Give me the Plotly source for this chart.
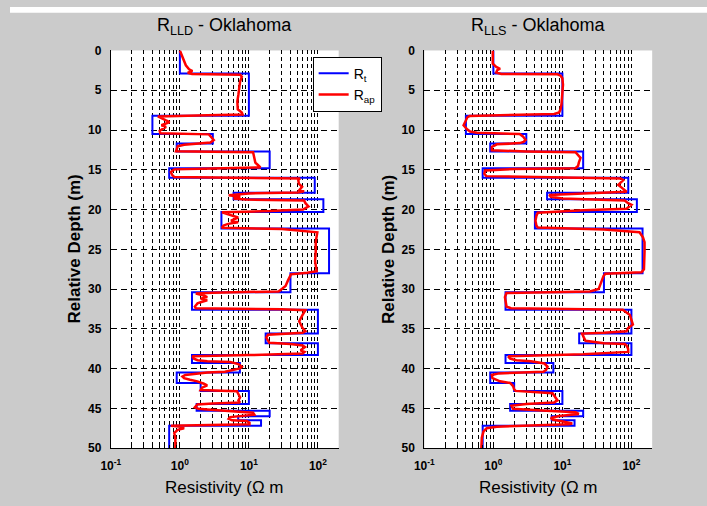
import numpy as np
import plotly.graph_objects as go

# ---- True resistivity model (shared by both panels) ----
rt_top_depth = [0, 2.9, 8.2, 10.5, 11.7, 12.7, 14.8, 16.0, 17.9, 18.7, 20.3, 22.4, 28.0,
                30.4, 32.6, 35.6, 36.8, 38.3, 39.3, 40.5, 41.8, 42.8, 44.45, 45.3, 46.0,
                46.5, 47.2]
rt_values = [1.0, 10, 0.4, 3, 0.9, 20, 0.7, 90, 6, 120, 4, 145, 40,
             1.5, 100, 17.5, 100, 1.5, 7.4, 0.9, 2, 10, 1.75, 20, 7,
             15, 0.7]
max_depth = 50

# ---- Apparent resistivity, LLD ----
lld_depth = [0, 1.05, 1.87, 2.36, 2.6, 2.8, 2.95, 3.05, 3.3, 3.9, 4.7, 5.5, 6.4, 7.4, 7.8, 8.05,
             8.15, 8.3, 8.8, 9.0, 9.4, 9.6, 10.1, 10.4, 10.55, 11.04, 11.25, 11.57, 11.7, 11.85,
             12.05, 12.47, 12.67, 12.8, 13.5, 14.1, 14.4, 14.7, 14.85, 14.95, 15.3, 15.7, 15.9,
             16.0, 16.1, 16.3, 16.75, 17.15, 17.55, 17.7, 17.85, 17.97, 18.1, 18.2, 18.4, 18.6,
             18.75, 18.86, 19.2, 19.6, 20.0, 20.2, 20.35, 20.8, 21.0, 21.4, 21.6, 21.8, 22.0,
             22.3, 22.45, 22.86, 24.1, 25.3, 26.5, 27.75, 27.95, 28.15, 28.56, 28.97, 29.6, 30.0,
             30.3, 30.45, 30.55, 30.8, 31.0, 31.2, 31.4, 31.6, 31.8, 32.2, 32.4, 32.55, 32.65,
             33.25, 34.06, 34.9, 35.3, 35.5, 35.65, 35.75, 36.1, 36.5, 36.75, 36.9, 37.1, 37.3,
             37.7, 37.9, 38.1, 38.3, 38.46, 38.75, 38.95, 39.07, 39.16, 39.44, 39.77, 39.97,
             40.17, 40.4, 40.5, 40.8, 41.0, 41.2, 41.4, 41.6, 41.9, 42.1, 42.4, 42.7, 42.85,
             43.2, 43.6, 44.0, 44.25, 44.4, 44.5, 44.87, 45.06, 45.15, 45.4, 45.55, 45.8, 45.96,
             46.1, 46.3, 46.5, 46.6, 46.8, 47.0, 47.1, 47.2, 47.3, 47.5, 47.7, 48.1, 48.7, 49.5,
             50]
lld_values = [1.0, 1.13, 1.22, 1.36, 1.52, 1.3, 1.5, 7.5, 7.9, 7.45, 7.3, 7.06, 6.8, 6.9, 7.9, 8.1,
              2.5, 0.48, 0.63, 0.71, 0.54, 0.63, 0.51, 0.52, 2.63, 2.93, 3.1, 2.77, 2.0, 1.15,
              0.93, 0.9, 0.88, 11.5, 12.0, 12.4, 13.5, 14.7, 3.0, 0.83, 0.74, 0.78, 0.83,
              20, 55, 52, 53, 59, 54, 63, 51, 10, 5.35, 5.1, 7.5, 6.0,
              9.0, 63, 66, 73, 61, 20, 4.07, 6.0, 7.0, 5.5, 7.0, 5.0, 4.3,
              4.07, 30, 98, 93, 93, 91, 96, 70, 40.7, 39, 36.6, 34, 29.4,
              27, 3.0, 1.7, 2.23, 2.49, 2.0, 2.49, 2.1, 1.8, 1.65, 1.7, 30, 66,
              60, 53.5, 60, 66, 60, 30, 18.9, 17.9, 18.9, 19.8, 40, 60, 65,
              56, 64, 60, 10, 1.52, 1.6, 1.8, 2.5, 5.35, 7.06, 7.9, 7.45,
              6.0, 4.5, 2.5, 1.2, 1.09, 1.15, 1.4, 1.79, 2.23, 2.49, 2.1, 2.0, 6.7,
              7.06, 7.45, 7.06, 7.45, 3.0, 1.79, 1.65, 1.85, 2.49, 7.45, 11.5, 12.0, 8.5,
              5.35, 5.1, 5.7, 9.3, 10.2, 10.2, 3.0, 0.74, 1.03, 1.15, 0.93, 0.83, 0.86, 0.86,
              0.86]

# ---- Apparent resistivity, LLS ----
lls_depth = [0, 1.67, 2.07, 2.3, 2.48, 2.77, 2.95, 3.0, 3.17, 3.5, 4.3, 5.5, 6.76, 7.4, 7.8, 7.98,
             8.1, 8.25, 8.4, 9.0, 9.4, 9.94, 10.2, 10.35, 10.5, 10.8, 11.25, 11.5, 11.65, 11.8,
             12.14, 12.55, 12.7, 12.8, 13.1, 13.5, 14.1, 14.5, 14.8, 14.9, 15.1, 15.5, 15.8,
             15.95, 16.1, 16.3, 16.75, 16.9, 17.4, 17.55, 17.76, 17.97, 18.17, 18.4, 18.6, 18.86,
             19.2, 19.4, 19.7, 19.9, 20.1, 20.4, 20.8, 21.4, 22.0, 22.25, 22.5, 22.86, 23.5,
             24.1, 25.3, 26.5, 27.5, 27.9, 28.07, 28.36, 28.97, 29.6, 30.0, 30.3, 30.5, 31.0,
             31.6, 32.2, 32.4, 32.55, 32.6, 33.25, 34.06, 34.47, 34.9, 35.3, 35.5, 35.6, 36.1,
             36.5, 36.8, 36.9, 37.1, 37.5, 37.9, 38.2, 38.46, 38.75, 38.95, 39.07, 39.36, 39.77,
             40.17, 40.4, 40.6, 40.8, 41.2, 41.6, 41.8, 42.2, 42.6, 42.8, 43.1, 43.6, 44.0,
             44.25, 44.45, 44.66, 45.06, 45.27, 45.5, 45.7, 45.96, 46.2, 46.4, 46.7, 46.9, 47.0,
             47.1, 47.3, 47.5, 47.9, 48.7, 50]
lls_values = [0.98, 0.98, 1.1, 1.25, 1.14, 1.1, 1.3, 8.5, 9.4, 10.0, 10.2, 10.0, 9.7, 9.4, 8.96, 7.6,
              2.0, 0.45, 0.42, 0.39, 0.37, 0.42, 0.46, 0.58, 2.4, 2.68, 2.93, 2.74, 2.4, 1.12,
              0.95, 0.95, 3.0, 15.5, 16.9, 18.3, 17.3, 16.9, 15.5, 2.0, 0.76, 0.74, 0.79,
              10, 70, 76, 68, 64.5, 76, 81, 85, 20, 6.45, 6.8, 10, 80,
              89.5, 100, 89.5, 85, 20, 4.4, 4.2, 4.07, 4.2, 4.4, 40, 131, 147,
              155, 155, 152, 152, 140, 42, 39.4, 37.2, 35.3, 33.5, 25, 1.55, 1.47,
              1.5, 1.55, 1.8, 40, 75, 95, 100, 105, 89.5, 85, 40, 19.3, 20.5,
              21.6, 40, 80, 85, 89.5, 90, 20, 1.64, 1.75, 2.15, 3.5, 5.5, 6.1,
              5.8, 5.3, 1.2, 0.95, 0.97, 1.25, 1.75, 1.93, 2.0, 2.1, 7.2, 8.0, 8.5,
              7.6, 3.0, 1.83, 1.93, 5.0, 15.5, 17.3, 8.96, 6.8, 7.2, 11.1, 13.9, 12.4,
              4.0, 1.12, 0.80, 0.72, 0.68, 0.67]

panel_titles = ["R<sub>LLD</sub> - Oklahoma", "R<sub>LLS</sub> - Oklahoma"]
legend_names = ["R<sub>t</sub>", "R<sub>ap</sub>"]
depth_ticks = list(range(0, 51, 5))
x_min, x_max = 0.1, 200

# tick values: every minor log position, label only the decades
x_tickvals, x_ticktext = [], []
for k in range(-1, 3):
    for m in range(1, 10):
        v = m * 10.0 ** k
        if v > x_max * 1.0001:
            break
        x_tickvals.append(v)
        x_ticktext.append("<b>10<sup>%d</sup></b>" % k if m == 1 else "")

W, H = 707, 506
FONT = "Liberation Sans, Arial, Helvetica, sans-serif"
GRAY = "#cbcbcb"

# panel domains (pixels -> paper)
left_px = [(102.3, 333.4), (420.3, 651.4)]
top_px, bot_px = 44.7, 453.7
ydom = [1 - bot_px / H, 1 - top_px / H]

fig = go.Figure()

rt_x = rt_values + [rt_values[-1]]
rt_y = rt_top_depth + [max_depth]
ap_sets = [(lld_values, lld_depth), (lls_values, lls_depth)]

for i in range(2):
    xa = "x" if i == 0 else "x2"
    ya = "y" if i == 0 else "y2"
    fig.add_trace(go.Scatter(x=rt_x, y=rt_y, mode="lines", line=dict(color="#0000ff", width=2, shape="vh"),
                             name=legend_names[0], showlegend=(i == 0), xaxis=xa, yaxis=ya))
    fig.add_trace(go.Scatter(x=ap_sets[i][0], y=ap_sets[i][1], mode="lines",
                             line=dict(color="#ff0000", width=2.5),
                             name=legend_names[1], showlegend=(i == 0), xaxis=xa, yaxis=ya))

axis_common_x = dict(type="log", range=[np.log10(x_min), np.log10(x_max)], tickmode="array",
                     tickvals=x_tickvals, ticktext=x_ticktext, showgrid=True, gridcolor="black",
                     gridwidth=1, griddash="4px,3px", showline=True, linecolor="black", linewidth=1,
                     ticks="inside", ticklen=3, tickcolor="black", zeroline=False,
                     ticklabelstandoff=6,
                     tickfont=dict(family=FONT, size=12, color="black"), fixedrange=True)
axis_common_y = dict(range=[max_depth, 0], tickmode="array", tickvals=depth_ticks,
                     ticktext=["<b>%d</b>" % d for d in depth_ticks], showgrid=True, gridcolor="black",
                     gridwidth=1, griddash="6px,4px", showline=True, linecolor="black", linewidth=1,
                     ticks="inside", ticklen=4, tickcolor="black", zeroline=False,
                     ticklabelstandoff=6,
                     tickfont=dict(family=FONT, size=12, color="black"), fixedrange=True)

fig.update_layout(
    width=W, height=H, margin=dict(l=0, r=0, t=0, b=0),
    paper_bgcolor=GRAY, plot_bgcolor="white",
    xaxis=dict(axis_common_x, domain=[left_px[0][0] / W, left_px[0][1] / W], anchor="y"),
    yaxis=dict(axis_common_y, domain=ydom, anchor="x"),
    xaxis2=dict(axis_common_x, domain=[left_px[1][0] / W, left_px[1][1] / W], anchor="y2"),
    yaxis2=dict(axis_common_y, domain=ydom, anchor="x2"),
    showlegend=True,
    legend=dict(x=307 / W, y=1 - 51 / H, xanchor="left", yanchor="top", bgcolor="white",
                bordercolor="black", borderwidth=1, font=dict(family=FONT, size=14, color="black"),
                itemwidth=30, tracegroupgap=0),
    font=dict(family=FONT, color="black"),
)

# white strip at the top of the figure
fig.add_shape(type="rect", xref="paper", yref="paper", x0=0, x1=1, y0=1 - 6 / H, y1=1,
              fillcolor="white", line=dict(width=0), layer="below")

for i in range(2):
    cx = (left_px[i][0] + left_px[i][1]) / 2 / W
    fig.add_annotation(text=panel_titles[i], x=cx, y=1 - 20 / H, xref="paper", yref="paper",
                       showarrow=False, xanchor="center", yanchor="middle",
                       font=dict(family=FONT, size=18, color="black"))
    fig.add_annotation(text="Resistivity (\u03a9 m", x=cx, y=1 - 494 / H, xref="paper", yref="paper",
                       showarrow=False, xanchor="center", yanchor="middle",
                       font=dict(family=FONT, size=17, color="black"))
    fig.add_annotation(text="<b>Relative Depth (m)</b>", x=(left_px[i][0] - 37) / W, y=1 - 249 / H,
                       xref="paper", yref="paper", textangle=-90, showarrow=False,
                       xanchor="center", yanchor="middle",
                       font=dict(family=FONT, size=17, color="black"))

fig.write_html("out.html")
